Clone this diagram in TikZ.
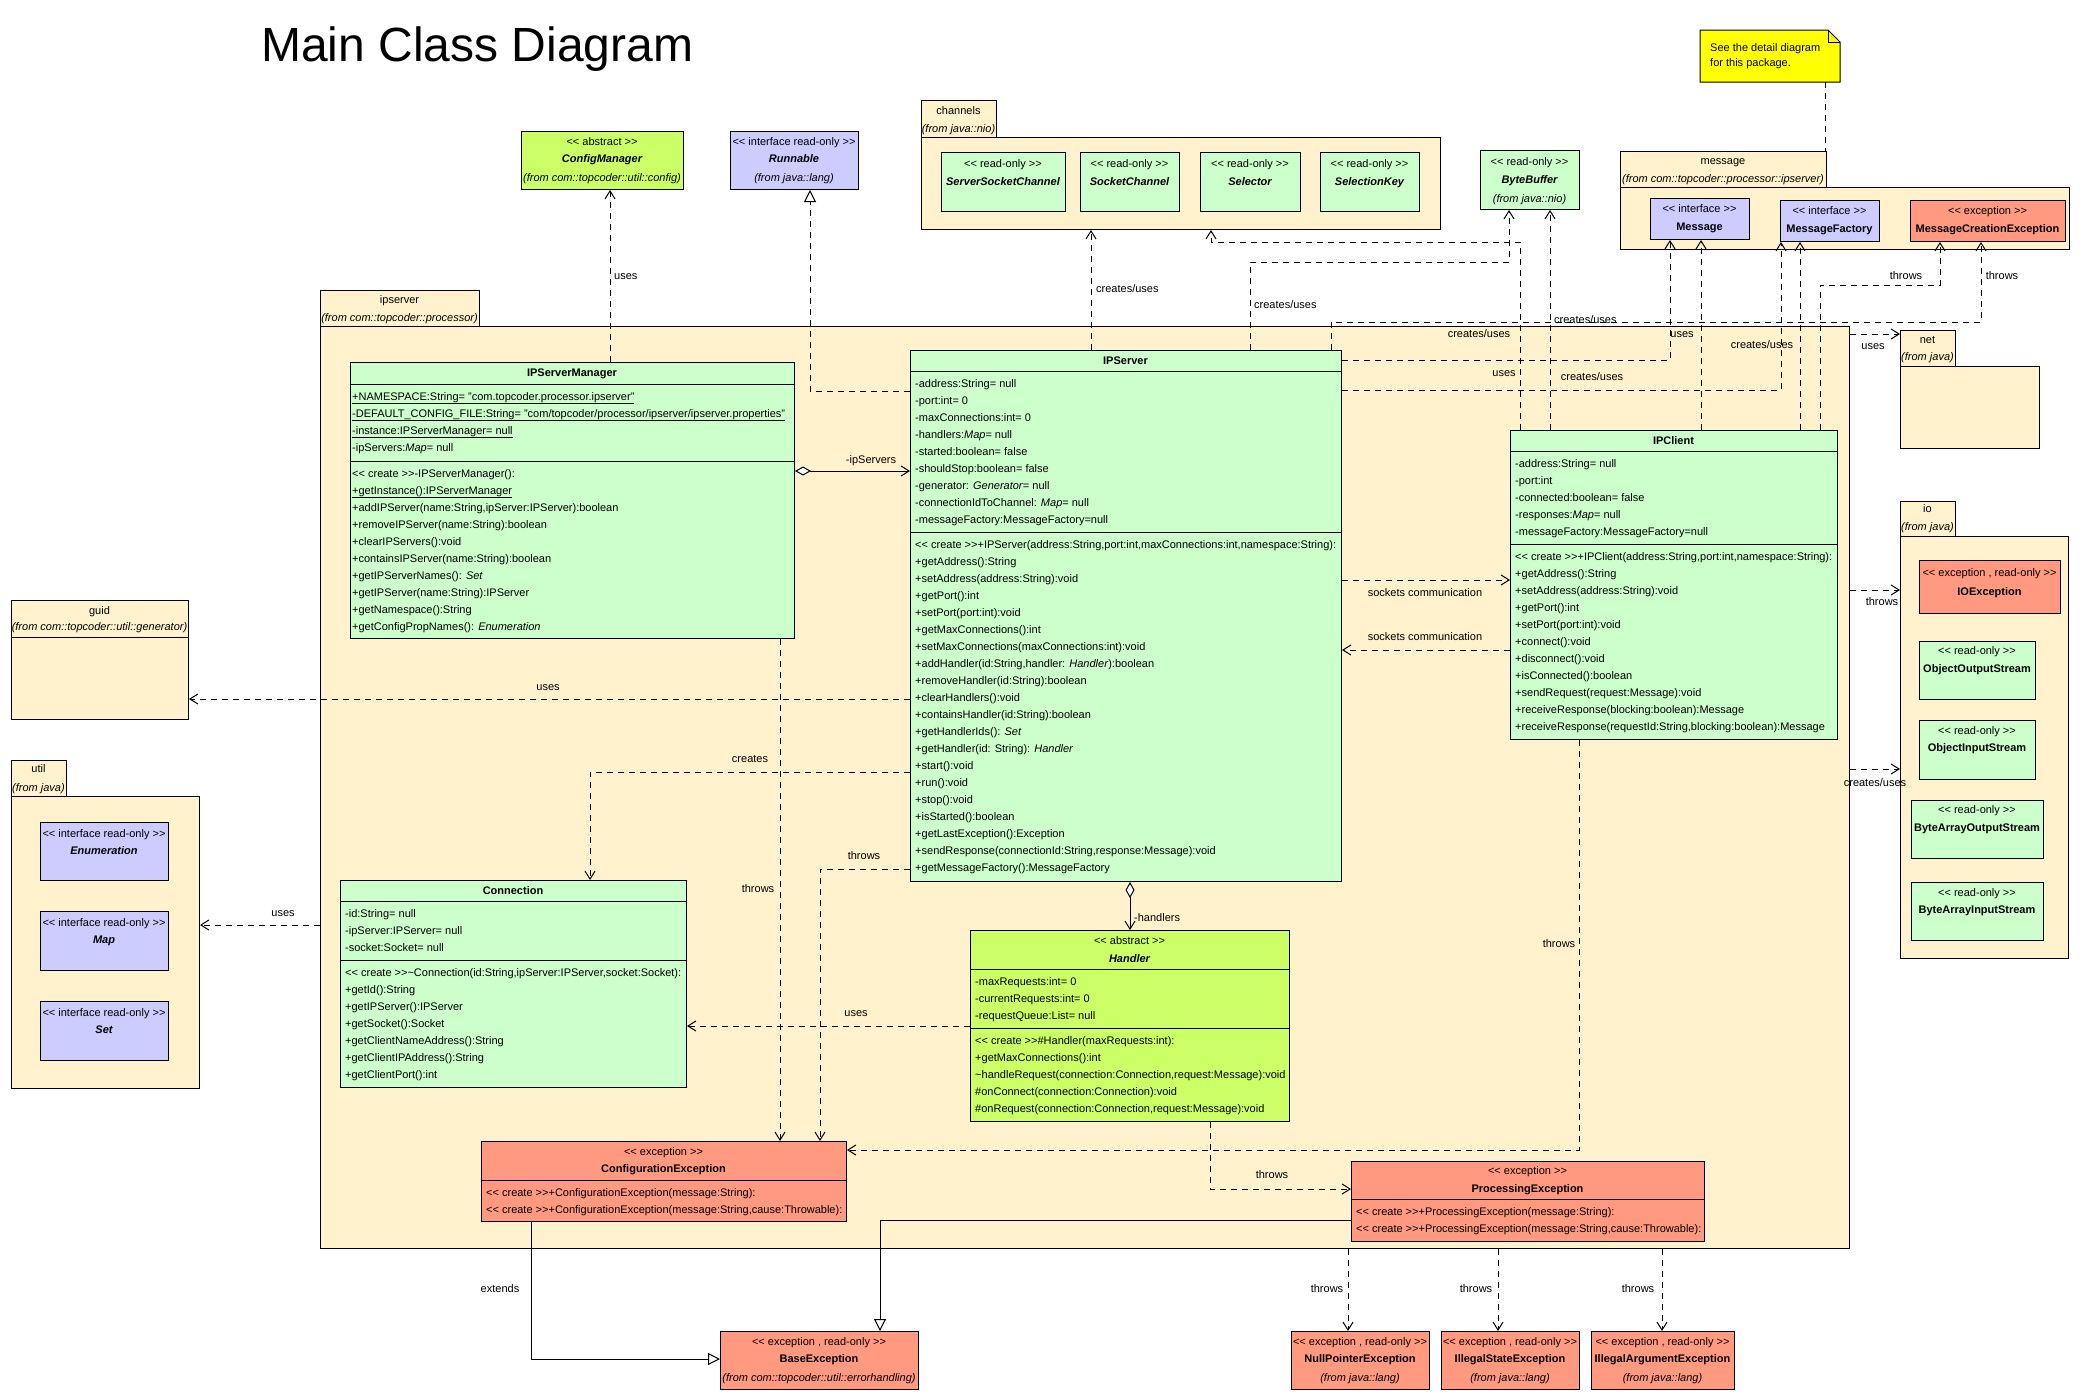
\documentclass[tikz,border=0pt]{standalone}
\usepackage{fontspec}
\setmainfont{Liberation Sans}
\usetikzlibrary{arrows.meta}
\definecolor{pkg}{HTML}{FFF2CC}
\definecolor{cls}{HTML}{CCFFCC}
\definecolor{abscls}{HTML}{CCFF66}
\definecolor{ifc}{HTML}{CCCCFF}
\definecolor{exc}{HTML}{FF9980}
\definecolor{notec}{HTML}{FFFF00}
\newcommand\st[1]{<\kern0pt< #1 >\kern0pt>}
\newcommand\cre{\st{create}}
\newcommand\fs{\fontsize{11}{13}\selectfont}
\newcommand\rowsat[4]{\foreach \t [count=\i from 0] in {#4}{\node[txt] (#1\i) at (#2,{#3+17*\i}) {\t};}}
\tikzset{
  box/.style={draw, line width=1pt, inner sep=0pt, anchor=north west},
  txt/.style={font=\fs, inner sep=0pt, anchor=west, text height=8pt, text depth=2pt},
  ctxt/.style={txt, anchor=center},
  itx/.style={ctxt, font=\fs\itshape},
  bx/.style={ctxt, font=\fs\bfseries},
  bix/.style={ctxt, font=\fs\bfseries\itshape},
  sepl/.style={line width=1pt},
  dashl/.style={line width=1pt, dash pattern=on 6pt off 5pt},
  dep/.style={dashl, -{Straight Barb[length=8pt,width=10pt]}},
  real/.style={dashl, -{Triangle[open,length=12pt,width=12pt]}},
  gen/.style={line width=1pt, -{Triangle[open,length=12pt,width=12pt]}},
  agg/.style={line width=1pt, {Diamond[length=16pt,width=9pt,fill=white]}-{Straight Barb[length=8pt,width=10pt]}},
  lbl/.style={font=\fs, inner sep=0pt, text height=8pt, text depth=2pt},
}
\begin{document}
\begin{tikzpicture}[x=1pt,y=-1pt]
\fill[white] (0,0) rectangle (2080,1400);
\useasboundingbox (0,0) rectangle (2080,1400);

\node[font=\fontsize{48}{56}\selectfont, anchor=base west, inner sep=0pt] (title) at (261,61) {Main Class Diagram};

% ---------------- packages ----------------
\node[box, fill=pkg, minimum width=159, minimum height=36] (ipstab) at (320,290) {};
\node[box, fill=pkg, minimum width=1529, minimum height=922] (ipspkg) at (320,326) {};
\node[ctxt] (ipstab-a) at (399.5,300) {ipserver};
\node[itx] (ipstab-b) at (399.5,318) {(from com::topcoder::processor)};
\node[box, fill=pkg, minimum width=75, minimum height=37] (chtab) at (921,100) {};
\node[box, fill=pkg, minimum width=519, minimum height=92] (chpkg) at (921,137) {};
\node[ctxt] (chtab-a) at (958.5,111) {channels};
\node[itx] (chtab-b) at (958.5,129) {(from java::nio)};
\node[box, fill=pkg, minimum width=206, minimum height=36] (msgtab) at (1620,151) {};
\node[box, fill=pkg, minimum width=449, minimum height=62] (msgpkg) at (1620,187) {};
\node[ctxt] (msgtab-a) at (1723,161) {message};
\node[itx] (msgtab-b) at (1723,179) {(from com::topcoder::processor::ipserver)};
\node[box, fill=pkg, minimum width=177, minimum height=37] (guidtab) at (11,600) {};
\node[box, fill=pkg, minimum width=177, minimum height=82] (guidpkg) at (11,637) {};
\node[ctxt] (guidtab-a) at (99.5,611) {guid};
\node[itx] (guidtab-b) at (99.5,627) {(from com::topcoder::util::generator)};
\node[box, fill=pkg, minimum width=55, minimum height=36] (utiltab) at (11,760) {};
\node[box, fill=pkg, minimum width=188, minimum height=292] (utilpkg) at (11,796) {};
\node[ctxt] (utiltab-a) at (38.5,769) {util};
\node[itx] (utiltab-b) at (38.5,788) {(from java)};
\node[box, fill=pkg, minimum width=55, minimum height=36] (nettab) at (1900,330) {};
\node[box, fill=pkg, minimum width=139, minimum height=82] (netpkg) at (1900,366) {};
\node[ctxt] (nettab-a) at (1927.5,340) {net};
\node[itx] (nettab-b) at (1927.5,357) {(from java)};
\node[box, fill=pkg, minimum width=55, minimum height=35] (iotab) at (1900,501) {};
\node[box, fill=pkg, minimum width=168, minimum height=422] (iopkg) at (1900,536) {};
\node[ctxt] (iotab-a) at (1927.5,509) {io};
\node[itx] (iotab-b) at (1927.5,527) {(from java)};

% ---------------- note ----------------
\node[inner sep=0pt, minimum width=140, minimum height=52, anchor=north west] (note) at (1700,30) {};
\draw[line width=1pt, fill=notec] (1700,30) -- (1828,30) -- (1840,42) -- (1840,82) -- (1700,82) -- cycle;
\draw[line width=1pt] (1828,30) -- (1828,42) -- (1840,42);
\node[txt] (note-a) at (1710,48) {See the detail diagram};
\node[txt] (note-b) at (1710,63) {for this package.};
\draw[dashl] (note.south -| 1825,0) -- (msgtab.north -| 1825,0);

% ---------------- simple boxes ----------------
\node[box, fill=abscls, minimum width=162, minimum height=58] (cfgmgr) at (521,131) {};
\node[ctxt] (cfgmgr-a) at (602,142) {\st{abstract}};
\node[bix] (cfgmgr-b) at (602,159) {ConfigManager};
\node[itx] (cfgmgr-c) at (602,178) {(from com::topcoder::util::config)};

\node[box, fill=ifc, minimum width=128, minimum height=58] (runnable) at (730,131) {};
\node[ctxt] (runnable-a) at (794,142) {\st{interface read-only}};
\node[bix] (runnable-b) at (794,159) {Runnable};
\node[itx] (runnable-c) at (794,178) {(from java::lang)};

\node[box, fill=cls, minimum width=99, minimum height=59] (bytebuf) at (1480,150) {};
\node[ctxt] (bytebuf-a) at (1529.5,162) {\st{read-only}};
\node[bix] (bytebuf-b) at (1529.5,180) {ByteBuffer};
\node[itx] (bytebuf-c) at (1529.5,199) {(from java::nio)};

\node[box, fill=cls, minimum width=124, minimum height=59] (ssc) at (941,152) {};
\node[ctxt] (ssc-a) at (1003,164) {\st{read-only}};
\node[bix] (ssc-b) at (1003,182) {ServerSocketChannel};
\node[box, fill=cls, minimum width=99, minimum height=59] (sockch) at (1080,152) {};
\node[ctxt] (sockch-a) at (1129.5,164) {\st{read-only}};
\node[bix] (sockch-b) at (1129.5,182) {SocketChannel};
\node[box, fill=cls, minimum width=100, minimum height=59] (selector) at (1200,152) {};
\node[ctxt] (selector-a) at (1250,164) {\st{read-only}};
\node[bix] (selector-b) at (1250,182) {Selector};
\node[box, fill=cls, minimum width=99, minimum height=59] (selkey) at (1320,152) {};
\node[ctxt] (selkey-a) at (1369.5,164) {\st{read-only}};
\node[bix] (selkey-b) at (1369.5,182) {SelectionKey};

\node[box, fill=ifc, minimum width=99, minimum height=41] (message) at (1650,198) {};
\node[ctxt] (message-a) at (1699.5,209) {\st{interface}};
\node[bx] (message-b) at (1699.5,227) {Message};
\node[box, fill=ifc, minimum width=99, minimum height=41] (msgfac) at (1780,200) {};
\node[ctxt] (msgfac-a) at (1829.5,211) {\st{interface}};
\node[bx] (msgfac-b) at (1829.5,229) {MessageFactory};
\node[box, fill=exc, minimum width=155, minimum height=41] (mce) at (1910,200) {};
\node[ctxt] (mce-a) at (1987.5,211) {\st{exception}};
\node[bx] (mce-b) at (1987.5,229) {MessageCreationException};

\node[box, fill=ifc, minimum width=128, minimum height=58] (enumer) at (40,822) {};
\node[ctxt] (enumer-a) at (104,834) {\st{interface read-only}};
\node[bix] (enumer-b) at (104,851) {Enumeration};
\node[box, fill=ifc, minimum width=128, minimum height=59] (mapi) at (40,911) {};
\node[ctxt] (mapi-a) at (104,923) {\st{interface read-only}};
\node[bix] (mapi-b) at (104,940) {Map};
\node[box, fill=ifc, minimum width=128, minimum height=59] (seti) at (40,1001) {};
\node[ctxt] (seti-a) at (104,1013) {\st{interface read-only}};
\node[bix] (seti-b) at (104,1030) {Set};

\node[box, fill=exc, minimum width=141, minimum height=53] (ioexc) at (1919,560) {};
\node[ctxt] (ioexc-a) at (1989.5,573) {\st{exception , read-only}};
\node[bx] (ioexc-b) at (1989.5,592) {IOException};
\node[box, fill=cls, minimum width=116, minimum height=58] (oos) at (1919,641) {};
\node[ctxt] (oos-a) at (1977,651) {\st{read-only}};
\node[bx] (oos-b) at (1977,669) {ObjectOutputStream};
\node[box, fill=cls, minimum width=116, minimum height=59] (ois) at (1919,720) {};
\node[ctxt] (ois-a) at (1977,731) {\st{read-only}};
\node[bx] (ois-b) at (1977,748) {ObjectInputStream};
\node[box, fill=cls, minimum width=132, minimum height=58] (baos) at (1911,800) {};
\node[ctxt] (baos-a) at (1977,810) {\st{read-only}};
\node[bx] (baos-b) at (1977,828) {ByteArrayOutputStream};
\node[box, fill=cls, minimum width=132, minimum height=58] (bais) at (1911,882) {};
\node[ctxt] (bais-a) at (1977,893) {\st{read-only}};
\node[bx] (bais-b) at (1977,910) {ByteArrayInputStream};

\node[box, fill=exc, minimum width=138, minimum height=58] (npe) at (1291,1331) {};
\node[ctxt] (npe-a) at (1360,1342) {\st{exception , read-only}};
\node[bx] (npe-b) at (1360,1359) {NullPointerException};
\node[itx] (npe-c) at (1360,1378) {(from java::lang)};
\node[box, fill=exc, minimum width=138, minimum height=58] (ise) at (1441,1331) {};
\node[ctxt] (ise-a) at (1510,1342) {\st{exception , read-only}};
\node[bx] (ise-b) at (1510,1359) {IllegalStateException};
\node[itx] (ise-c) at (1510,1378) {(from java::lang)};
\node[box, fill=exc, minimum width=143, minimum height=58] (iae) at (1591,1331) {};
\node[ctxt] (iae-a) at (1662.5,1342) {\st{exception , read-only}};
\node[bx] (iae-b) at (1662.5,1359) {IllegalArgumentException};
\node[itx] (iae-c) at (1662.5,1378) {(from java::lang)};
\node[box, fill=exc, minimum width=198, minimum height=58] (baseexc) at (720,1331) {};
\node[ctxt] (baseexc-a) at (819,1342) {\st{exception , read-only}};
\node[bx] (baseexc-b) at (819,1359) {BaseException};
\node[itx] (baseexc-c) at (819,1378) {(from com::topcoder::util::errorhandling)};

% ---------------- main classes ----------------
\node[box, fill=cls, minimum width=444, minimum height=276] (ipsm) at (350,362) {};
\draw[sepl] (ipsm.west |- 0,384) -- (ipsm.east |- 0,384) (ipsm.west |- 0,461) -- (ipsm.east |- 0,461);
\node[bx] (ipsm-t) at (572,373) {IPServerManager};
\rowsat{ipsma}{352}{397}{{\underline{+NAMESPACE:String= "com.topcoder.processor.ipserver"}},
 {\underline{-DEFAULT\_CONFIG\_FILE:String= "com/topcoder/processor/ipserver/ipserver.properties"}},
 {\underline{-instance:IPServerManager= null}},
 {-ipServers:\textit{Map}= null}}
\rowsat{ipsmm}{352}{474}{{\cre-IPServerManager():},
 {\underline{+getInstance():IPServerManager}},
 {+addIPServer(name:String,ipServer:IPServer):boolean},
 {+removeIPServer(name:String):boolean},
 {+clearIPServers():void},
 {+containsIPServer(name:String):boolean},
 {+getIPServerNames(): \textit{Set}},
 {+getIPServer(name:String):IPServer},
 {+getNamespace():String},
 {+getConfigPropNames(): \textit{Enumeration}}}

\node[box, fill=cls, minimum width=431, minimum height=531] (ipserver) at (910,350) {};
\draw[sepl] (ipserver.west |- 0,371) -- (ipserver.east |- 0,371) (ipserver.west |- 0,532) -- (ipserver.east |- 0,532);
\node[bx] (ipserver-t) at (1125.5,361) {IPServer};
\rowsat{ipsa}{915}{384}{{-address:String= null},
 {-port:int= 0},
 {-maxConnections:int= 0},
 {-handlers:\textit{Map}= null},
 {-started:boolean= false},
 {-shouldStop:boolean= false},
 {-generator: \textit{Generator}= null},
 {-connectionIdToChannel: \textit{Map}= null},
 {-messageFactory:MessageFactory=null}}
\rowsat{ipsm}{915}{545}{{\cre+IPServer(address:String,port:int,maxConnections:int,namespace:String):},
 {+getAddress():String},
 {+setAddress(address:String):void},
 {+getPort():int},
 {+setPort(port:int):void},
 {+getMaxConnections():int},
 {+setMaxConnections(maxConnections:int):void},
 {+addHandler(id:String,handler: \textit{Handler}):boolean},
 {+removeHandler(id:String):boolean},
 {+clearHandlers():void},
 {+containsHandler(id:String):boolean},
 {+getHandlerIds(): \textit{Set}},
 {+getHandler(id: String): \textit{Handler}},
 {+start():void},
 {+run():void},
 {+stop():void},
 {+isStarted():boolean},
 {+getLastException():Exception},
 {+sendResponse(connectionId:String,response:Message):void},
 {+getMessageFactory():MessageFactory}}

\node[box, fill=cls, minimum width=327, minimum height=309] (ipclient) at (1510,430) {};
\draw[sepl] (ipclient.west |- 0,451) -- (ipclient.east |- 0,451) (ipclient.west |- 0,544) -- (ipclient.east |- 0,544);
\node[bx] (ipclient-t) at (1673.5,441) {IPClient};
\rowsat{ipca}{1515}{464}{{-address:String= null},
 {-port:int},
 {-connected:boolean= false},
 {-responses:\textit{Map}= null},
 {-messageFactory:MessageFactory=null}}
\rowsat{ipcm}{1515}{557}{{\cre+IPClient(address:String,port:int,namespace:String):},
 {+getAddress():String},
 {+setAddress(address:String):void},
 {+getPort():int},
 {+setPort(port:int):void},
 {+connect():void},
 {+disconnect():void},
 {+isConnected():boolean},
 {+sendRequest(request:Message):void},
 {+receiveResponse(blocking:boolean):Message},
 {+receiveResponse(requestId:String,blocking:boolean):Message}}

\node[box, fill=cls, minimum width=346, minimum height=207] (conn) at (340,880) {};
\draw[sepl] (conn.west |- 0,901) -- (conn.east |- 0,901) (conn.west |- 0,960) -- (conn.east |- 0,960);
\node[bx] (conn-t) at (513,891) {Connection};
\rowsat{conna}{345}{914}{{-id:String= null},
 {-ipServer:IPServer= null},
 {-socket:Socket= null}}
\rowsat{connm}{345}{973}{{\cre\textasciitilde Connection(id:String,ipServer:IPServer,socket:Socket):},
 {+getId():String},
 {+getIPServer():IPServer},
 {+getSocket():Socket},
 {+getClientNameAddress():String},
 {+getClientIPAddress():String},
 {+getClientPort():int}}

\node[box, fill=abscls, minimum width=319, minimum height=191] (handler) at (970,930) {};
\draw[sepl] (handler.west |- 0,969) -- (handler.east |- 0,969) (handler.west |- 0,1028) -- (handler.east |- 0,1028);
\node[ctxt] (handler-s) at (1129.5,941) {\st{abstract}};
\node[bix] (handler-t) at (1129.5,959) {Handler};
\rowsat{hda}{975}{982}{{-maxRequests:int= 0},
 {-currentRequests:int= 0},
 {-requestQueue:List= null}}
\rowsat{hdm}{975}{1041}{{\cre\#Handler(maxRequests:int):},
 {+getMaxConnections():int},
 {\textasciitilde handleRequest(connection:Connection,request:Message):void},
 {\#onConnect(connection:Connection):void},
 {\#onRequest(connection:Connection,request:Message):void}}

\node[box, fill=exc, minimum width=365, minimum height=80] (cfgexc) at (481,1141) {};
\draw[sepl] (cfgexc.west |- 0,1180) -- (cfgexc.east |- 0,1180);
\node[ctxt] (cfgexc-s) at (663.5,1152) {\st{exception}};
\node[bx] (cfgexc-t) at (663.5,1169) {ConfigurationException};
\rowsat{cfgm}{486}{1193}{{\cre+ConfigurationException(message:String):},
 {\cre+ConfigurationException(message:String,cause:Throwable):}}

\node[box, fill=exc, minimum width=353, minimum height=80] (procexc) at (1351,1161) {};
\draw[sepl] (procexc.west |- 0,1199) -- (procexc.east |- 0,1199);
\node[ctxt] (procexc-s) at (1527.5,1171) {\st{exception}};
\node[bx] (procexc-t) at (1527.5,1189) {ProcessingException};
\rowsat{prcm}{1356}{1212}{{\cre+ProcessingException(message:String):},
 {\cre+ProcessingException(message:String,cause:Throwable):}}

% ---------------- connectors ----------------
\draw[dep] (ipsm.north -| 610,0) -- (cfgmgr.south -| 610,0);
\node[lbl, anchor=west] (l-uses1) at (614,276) {uses};
\draw[real] (ipserver.west |- 0,391) -| (runnable.south -| 810,0);
\draw[agg] (ipsm.east |- 0,471) -- (ipserver.west |- 0,471);
\node[lbl] (l-ips) at (871,460) {-ipServers};
\draw[dep] (ipserver.north -| 1091,0) -- (chpkg.south -| 1091,0);
\node[lbl, anchor=west] (l-cu1) at (1096,289) {creates/uses};
\draw[dep] (ipserver.north -| 1250,0) |- (1509,262) -- (bytebuf.south -| 1509,0);
\node[lbl, anchor=west] (l-cu2) at (1254,305) {creates/uses};
\draw[dep] (ipclient.north -| 1520,0) |- (1211,242) -- (chpkg.south -| 1211,0);
\node[lbl] (l-cu4) at (1479,334) {creates/uses};
\draw[dep] (ipserver.north -| 1331,0) |- (1981,322) -- (mce.south -| 1981,0);
\node[lbl] (l-thr2) at (2002,276) {throws};
\draw[dep] (ipclient.north -| 1550,0) -- (bytebuf.south -| 1550,0);
\node[lbl, anchor=west] (l-cu3) at (1554,320) {creates/uses};
\draw[dep] (ipserver.east |- 0,360) -| (message.south -| 1670,0);
\node[lbl] (l-uses2) at (1682,334) {uses};
\draw[dep] (ipserver.east |- 0,390) -| (msgfac.south -| 1781,0);
\node[lbl] (l-uses3) at (1504,373) {uses};
\draw[dep] (ipclient.north -| 1701,0) -- (message.south -| 1701,0);
\node[lbl] (l-cu6) at (1592,377) {creates/uses};
\draw[dep] (ipclient.north -| 1800,0) -- (msgfac.south -| 1800,0);
\node[lbl] (l-cu5) at (1762,345) {creates/uses};
\draw[dep] (ipclient.north -| 1820,0) |- (1940,285) -- (mce.south -| 1940,0);
\node[lbl] (l-thr1) at (1906,276) {throws};
\draw[dep] (ipspkg.east |- 0,334) -- (nettab.west |- 0,334);
\node[lbl] (l-uses4) at (1873,346) {uses};

\draw[dep] (ipserver.east |- 0,580) -- (ipclient.west |- 0,580);
\draw[dep] (ipclient.west |- 0,650) -- (ipserver.east |- 0,650);
\node[lbl] (l-sock1) at (1425,593) {sockets communication};
\node[lbl] (l-sock2) at (1425,637) {sockets communication};

\draw[dep] (ipspkg.east |- 0,590) -- (iopkg.west |- 0,590);
\node[lbl] (l-thr3) at (1882,602) {throws};
\draw[dep] (ipspkg.east |- 0,769) -- (iopkg.west |- 0,769);
\node[lbl] (l-cu7) at (1875,783) {creates/uses};

\draw[dep] (ipserver.west |- 0,699) -- (guidpkg.east |- 0,699);
\node[lbl] (l-uses5) at (548,687) {uses};
\draw[dep] (ipspkg.west |- 0,925) -- (utilpkg.east |- 0,925);
\node[lbl] (l-uses6) at (283,913) {uses};

\draw[dep] (ipserver.west |- 0,772) -| (conn.north -| 590,0);
\node[lbl] (l-creates) at (750,759) {creates};
\draw[agg] (ipserver.south -| 1130,0) -- (handler.north -| 1130,0);
\node[lbl, anchor=west] (l-hand) at (1134,918) {-handlers};
\draw[dep] (handler.west |- 0,1026) -- (conn.east |- 0,1026);
\node[lbl] (l-uses7) at (856,1013) {uses};

\draw[dep] (ipsm.south -| 780,0) -- (cfgexc.north -| 780,0);
\node[lbl] (l-thr4) at (758,889) {throws};
\draw[dep] (ipserver.west |- 0,869) -| (cfgexc.north -| 820,0);
\node[lbl] (l-thr5) at (864,856) {throws};
\draw[dep] (ipclient.south -| 1579,0) |- (cfgexc.east |- 0,1150);
\node[lbl] (l-thr6) at (1559,944) {throws};
\draw[dep] (handler.south -| 1210,0) |- (procexc.west |- 0,1189);
\node[lbl] (l-thr7) at (1272,1175) {throws};

\draw[gen] (cfgexc.south -| 531,0) |- (baseexc.west |- 0,1359);
\node[lbl] (l-ext) at (500,1289) {extends};
\draw[gen] (procexc.west |- 0,1220) -| (baseexc.north -| 880,0);

\draw[dep] (ipspkg.south -| 1348,0) -- (npe.north -| 1348,0);
\draw[dep] (ipspkg.south -| 1498,0) -- (ise.north -| 1498,0);
\draw[dep] (ipspkg.south -| 1662,0) -- (iae.north -| 1662,0);
\node[lbl] (l-thr8) at (1327,1289) {throws};
\node[lbl] (l-thr9) at (1476,1289) {throws};
\node[lbl] (l-thr10) at (1638,1289) {throws};
\end{tikzpicture}
\end{document}
